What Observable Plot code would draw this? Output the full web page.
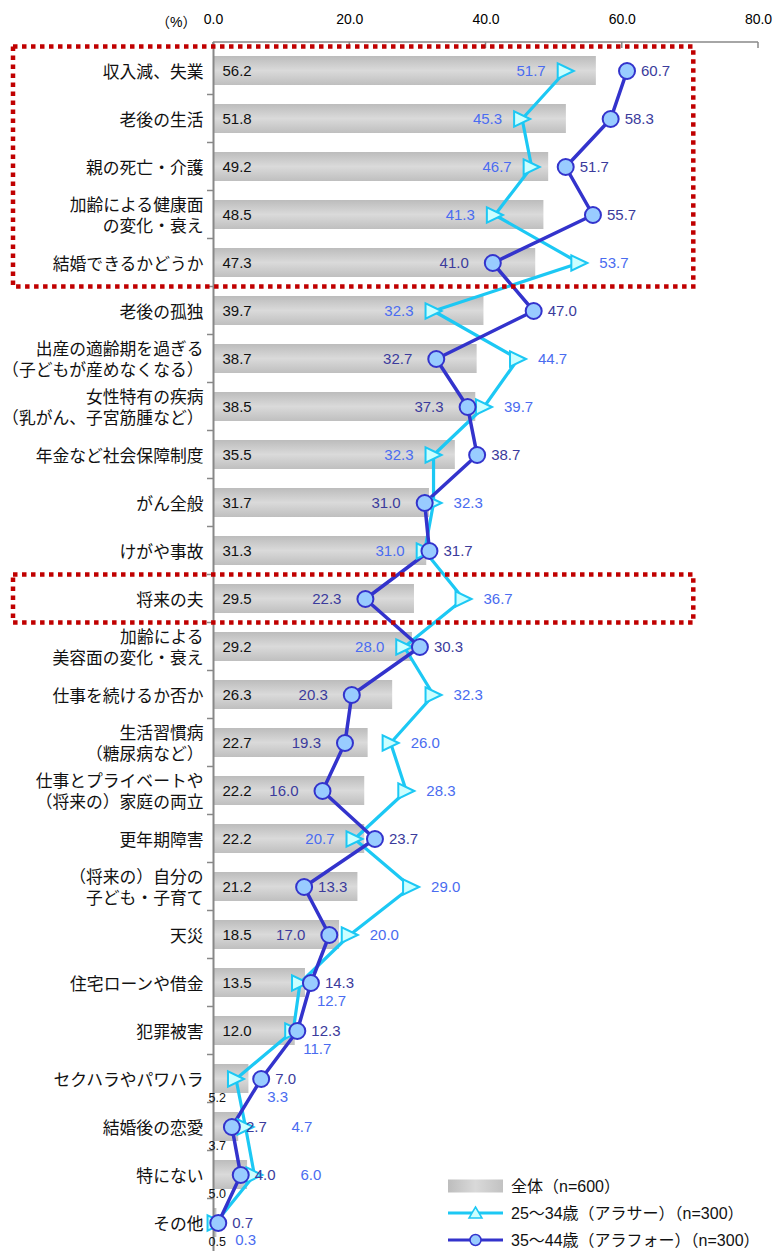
<!DOCTYPE html>
<html><head><meta charset="utf-8">
<script src="https://cdn.jsdelivr.net/npm/d3@7"></script>
<script src="https://cdn.jsdelivr.net/npm/@observablehq/plot@0.6"></script>
<style>
html,body{margin:0;padding:0;background:#fff;}
#chart svg{display:block;}
</style>
</head><body><div id="chart"></div>
<script>
const categories = [
  "収入減、失業",
  "老後の生活",
  "親の死亡・介護",
  "加齢による健康面\nの変化・衰え",
  "結婚できるかどうか",
  "老後の孤独",
  "出産の適齢期を過ぎる\n（子どもが産めなくなる）",
  "女性特有の疾病\n（乳がん、子宮筋腫など）",
  "年金など社会保障制度",
  "がん全般",
  "けがや事故",
  "将来の夫",
  "加齢による\n美容面の変化・衰え",
  "仕事を続けるか否か",
  "生活習慣病\n（糖尿病など）",
  "仕事とプライベートや\n（将来の）家庭の両立",
  "更年期障害",
  "（将来の）自分の\n子ども・子育て",
  "天災",
  "住宅ローンや借金",
  "犯罪被害",
  "セクハラやパワハラ",
  "結婚後の恋愛",
  "特にない",
  "その他"
];
const totalAll  = [56.2, 51.8, 49.2, 48.5, 47.3, 39.7, 38.7, 38.5, 35.5, 31.7, 31.3, 29.5, 29.2, 26.3, 22.7, 22.2, 22.2, 21.2, 18.5, 13.5, 12.0, 5.2, 3.7, 5.0, 0.5];
const age25to34 = [51.7, 45.3, 46.7, 41.3, 53.7, 32.3, 44.7, 39.7, 32.3, 32.3, 31.0, 36.7, 28.0, 32.3, 26.0, 28.3, 20.7, 29.0, 20.0, 12.7, 11.7, 3.3, 4.7, 6.0, 0.3];
const age35to44 = [60.7, 58.3, 51.7, 55.7, 41.0, 47.0, 32.7, 37.3, 38.7, 31.0, 31.7, 22.3, 30.3, 20.3, 19.3, 16.0, 23.7, 13.3, 17.0, 14.3, 12.3, 7.0, 2.7, 4.0, 0.7];
const seriesLabels = ["全体（n=600）", "25～34歳（アラサー）（n=300）", "35～44歳（アラフォー）（n=300）"];
const xTicks = [0, 20, 40, 60, 80];
const highlightGroups = [["収入減、失業", "結婚できるかどうか"], ["将来の夫", "将来の夫"]];

const rows = categories.map((cat, i) => ({cat, total: totalAll[i], a30: age25to34[i], a40: age35to44[i]}));
const fmt = v => v.toFixed(1);

const CYAN = "#1cc8f4", DARK = "#3333cc";
const CYAN_TXT = "#4a6cf0", DARK_TXT = "#3b3b9c";
const FONT = "'Liberation Sans', 'Noto Sans CJK JP', sans-serif";

const triRight = {
  draw(ctx, size) {
    const r = Math.sqrt(size / Math.PI);
    ctx.moveTo(r, 0);
    ctx.lineTo(-r, -0.95 * r);
    ctx.lineTo(-r, 0.95 * r);
    ctx.closePath();
  }
};

// label placement rules
const darkRight = rows.filter(r => r.a40 > r.a30 || r.a40 < 15);
const darkLeft = rows.filter(r => !(r.a40 > r.a30 || r.a40 < 15));
const cyanLeft = rows.filter(r => r.a30 < r.a40 && r.a40 >= 15);
const cyanBelow = rows.filter(r => r.a30 < r.a40 && r.a40 < 15 && r.a40 >= 2);
const cyanBelowTiny = rows.filter(r => r.a30 < r.a40 && r.a40 < 2);
const cyanFar = rows.filter(r => r.a30 > r.a40 && r.a40 < 15 && r.a30 - r.a40 < 5);
const cyanRight = rows.filter(r => r.a30 > r.a40 && !(r.a40 < 15 && r.a30 - r.a40 < 5));
const barIn = rows.filter(r => r.total >= 10);
const barOut = rows.filter(r => r.total < 10);

const chart = Plot.plot({
  width: 779, height: 1251,
  marginLeft: 213, marginRight: 21, marginTop: 42, marginBottom: 0,
  style: {fontFamily: FONT, fontSize: "15px", background: "#fff", color: "#000", overflow: "visible"},
  x: {domain: [0, 80]},
  y: {domain: categories, axis: null, paddingInner: 0.4, paddingOuter: 0.175},
  marks: [
    Plot.axisX({anchor: "top", ticks: xTicks, tickFormat: d => d.toFixed(1), tickSize: 0, tickPadding: 19, fontSize: 14, label: null}),
    Plot.text(["（%）"], {x: () => 0, frameAnchor: "top", dy: -25, dx: -17, textAnchor: "end", fontSize: 14}),
    Plot.barX(rows, {x: "total", y: "cat", fill: "url(#barGrad)"}),
    Plot.ruleX([0], {stroke: "#888", strokeWidth: 2}),
    Plot.text(categories, {x: () => 0, y: d => d, text: d => d, textAnchor: "end", dx: -10, fontSize: 16.8, lineHeight: 1.25, fill: "#111"}),
    Plot.text(barIn, {x: () => 0, y: "cat", text: d => fmt(d.total), textAnchor: "start", dx: 9, fill: "#111"}),
    Plot.text(barOut, {x: () => 0, y: "cat", text: d => fmt(d.total), textAnchor: "start", dx: -5, dy: 19, fontSize: 12.5, fill: "#111"}),
    Plot.line(rows, {x: "a30", y: "cat", stroke: CYAN, strokeWidth: 3.2}),
    Plot.line(rows, {x: "a40", y: "cat", stroke: DARK, strokeWidth: 3.5}),
    Plot.dot(rows, {x: "a30", y: "cat", symbol: triRight, r: 8, fill: "#ccffff", stroke: CYAN, strokeWidth: 2}),
    Plot.dot(rows, {x: "a40", y: "cat", r: 8, fill: "#99ccff", stroke: DARK, strokeWidth: 2}),
    Plot.text(darkRight, {x: "a40", y: "cat", text: d => fmt(d.a40), textAnchor: "start", dx: 14, fill: DARK_TXT}),
    Plot.text(darkLeft, {x: "a40", y: "cat", text: d => fmt(d.a40), textAnchor: "end", dx: -24, fill: DARK_TXT}),
    Plot.text(cyanLeft, {x: "a30", y: "cat", text: d => fmt(d.a30), textAnchor: "end", dx: -20, fill: CYAN_TXT}),
    Plot.text(cyanRight, {x: "a30", y: "cat", text: d => fmt(d.a30), textAnchor: "start", dx: 20, fill: CYAN_TXT}),
    Plot.text(cyanFar, {x: "a30", y: "cat", text: d => fmt(d.a30), textAnchor: "start", dx: 46, fill: CYAN_TXT}),
    Plot.text(cyanBelow, {x: "a40", y: "cat", text: d => fmt(d.a30), textAnchor: "start", dx: 6, dy: 18, fill: CYAN_TXT}),
    Plot.text(cyanBelowTiny, {x: "a40", y: "cat", text: d => fmt(d.a30), textAnchor: "start", dx: 17, dy: 17, fill: CYAN_TXT})
  ]
});

document.getElementById("chart").appendChild(chart);

// ---- decorations built from the plot's own scales ----
const ns = "http://www.w3.org/2000/svg";
function el(tag, attrs, parent) {
  const e = document.createElementNS(ns, tag);
  for (const k in attrs) e.setAttribute(k, attrs[k]);
  if (parent) parent.appendChild(e);
  return e;
}
const svg = chart.tagName.toLowerCase() === "svg" ? chart : chart.querySelector("svg");

const defs = el("defs", {});
svg.insertBefore(defs, svg.firstChild);
const g1 = el("linearGradient", {id: "barGrad", x1: 0, y1: 0, x2: 0, y2: 1}, defs);
el("stop", {offset: "0", "stop-color": "#bcbcbc"}, g1);
el("stop", {offset: "0.5", "stop-color": "#dadada"}, g1);
el("stop", {offset: "1", "stop-color": "#bfbfbf"}, g1);
const g2 = el("linearGradient", {id: "legGrad", x1: 0, y1: 0, x2: 1, y2: 0}, defs);
el("stop", {offset: "0", "stop-color": "#bdbdbd"}, g2);
el("stop", {offset: "0.5", "stop-color": "#d9d9d9"}, g2);
el("stop", {offset: "1", "stop-color": "#c2c2c2"}, g2);

const xs = chart.scale("x"), ys = chart.scale("y");
const bw = ys.bandwidth, step = ys.step;
const gap = (step - bw) / 2;
const x0 = xs.apply(0), x80 = xs.apply(80);
const axisTop = 42;
const deco = el("g", {}, svg);
// top axis line and ticks
el("line", {x1: x0, x2: x80, y1: axisTop, y2: axisTop, stroke: "#888", "stroke-width": 1.5}, deco);
for (const t of xTicks) {
  el("line", {x1: xs.apply(t), x2: xs.apply(t), y1: axisTop, y2: axisTop + 6, stroke: "#888", "stroke-width": 1.5}, deco);
}
// category boundary ticks on the left axis
categories.forEach((c, i) => {
  if (i === 0) return;
  const yb = ys.apply(c) - gap;
  el("line", {x1: x0 - 6, x2: x0, y1: yb, y2: yb, stroke: "#888", "stroke-width": 1.5}, deco);
});
// red dotted highlight boxes
for (const [a, b] of highlightGroups) {
  const y1 = ys.apply(a) - gap, y2 = ys.apply(b) + bw + gap;
  const xr = xs.apply(70.5);
  el("rect", {x: 13, y: y1, width: xr - 13, height: y2 - y1, fill: "none", stroke: "#c00000", "stroke-width": 4.5, "stroke-dasharray": "4.5 4.5"}, svg);
}
// legend
const lg = el("g", {"font-family": FONT, "font-size": 16, fill: "#111", "text-anchor": "start"}, svg);
const lx = 448, lw = 55, tx = 511;
const ly = [1186, 1213, 1240];
el("rect", {x: lx, y: ly[0] - 6.5, width: lw, height: 13, fill: "url(#legGrad)"}, lg);
el("line", {x1: lx, x2: lx + lw, y1: ly[1], y2: ly[1], stroke: CYAN, "stroke-width": 3}, lg);
const cx = lx + lw / 2;
el("path", {d: `M${cx},${ly[1] - 6}L${cx + 6.5},${ly[1] + 5}L${cx - 6.5},${ly[1] + 5}Z`, fill: "#ccffff", stroke: CYAN, "stroke-width": 1.5}, lg);
el("line", {x1: lx, x2: lx + lw, y1: ly[2], y2: ly[2], stroke: DARK, "stroke-width": 3}, lg);
el("circle", {cx: cx, cy: ly[2], r: 5.5, fill: "#99ccff", stroke: DARK, "stroke-width": 1.5}, lg);
seriesLabels.forEach((s, i) => {
  const t = el("text", {x: tx, y: ly[i], dy: "0.35em"}, lg);
  t.textContent = s;
});
</script>
</body></html>
